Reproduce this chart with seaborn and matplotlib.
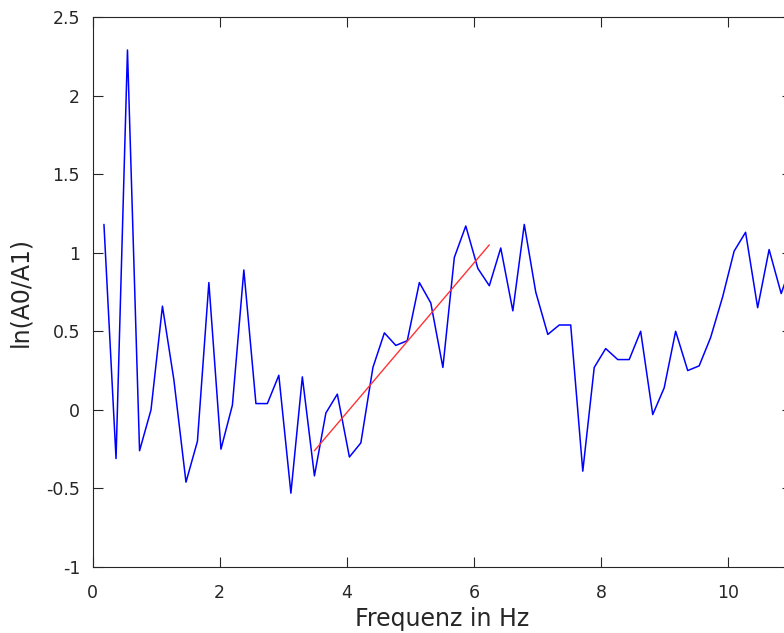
import numpy as np
import pandas as pd
import matplotlib
matplotlib.use("Agg")
import matplotlib.pyplot as plt
import seaborn as sns

freq = [0.18, 0.37, 0.55, 0.74, 0.92, 1.10, 1.28, 1.47, 1.65, 1.83,
        2.02, 2.20, 2.38, 2.57, 2.75, 2.93, 3.12, 3.30, 3.49, 3.67,
        3.85, 4.04, 4.22, 4.41, 4.59, 4.77, 4.95, 5.14, 5.32, 5.51,
        5.69, 5.87, 6.06, 6.24, 6.42, 6.61, 6.79, 6.97, 7.16, 7.34,
        7.52, 7.71, 7.89, 8.07, 8.26, 8.44, 8.62, 8.81, 8.99, 9.17,
        9.36, 9.54, 9.72, 9.91, 10.09, 10.27, 10.46, 10.64, 10.83, 11.01]
ln_ratio = [1.18, -0.31, 2.29, -0.26, 0.00, 0.66, 0.19, -0.46, -0.20, 0.81,
            -0.25, 0.03, 0.89, 0.04, 0.04, 0.22, -0.53, 0.21, -0.42, -0.02,
            0.10, -0.30, -0.21, 0.27, 0.49, 0.41, 0.44, 0.81, 0.68, 0.27,
            0.97, 1.17, 0.90, 0.79, 1.03, 0.63, 1.18, 0.75, 0.48, 0.54,
            0.54, -0.39, 0.27, 0.39, 0.32, 0.32, 0.50, -0.03, 0.14, 0.50,
            0.25, 0.28, 0.46, 0.72, 1.01, 1.13, 0.65, 1.02, 0.74, 0.95]
fit_freq = [3.49, 6.24]
fit_vals = [-0.26, 1.05]

xticks = [0, 2, 4, 6, 8, 10]
yticks = [-1, -0.5, 0, 0.5, 1, 1.5, 2, 2.5]
ytick_labels = ["-1", "-0.5", "0", "0.5", "1", "1.5", "2", "2.5"]

sns.set_theme(style="white")
plt.rcParams["font.family"] = ["DejaVu Sans"]
plt.rcParams["axes.unicode_minus"] = False

dark = "#262626"
fig = plt.figure(figsize=(7.84, 6.33), dpi=100)
ax = fig.add_axes([92.5 / 784, 1 - 567 / 633, (792 - 92.5) / 784, 550 / 633])

df = pd.DataFrame({"f": freq, "v": ln_ratio})
fit = pd.DataFrame({"f": fit_freq, "v": fit_vals})
sns.lineplot(data=df, x="f", y="v", color=(0, 0, 1), lw=1.1, sort=False,
             estimator=None, ax=ax)
sns.lineplot(data=fit, x="f", y="v", color=(1, 0.2, 0.2), lw=1.0, sort=False,
             estimator=None, ax=ax)

ax.set_xlim(0, 11)
ax.set_ylim(-1, 2.5)
ax.set_xticks(xticks)
ax.set_yticks(yticks)
ax.set_yticklabels(ytick_labels)
ax.tick_params(direction="in", length=7, width=0.8, colors=dark,
               labelsize=12.5, top=True, right=True, bottom=True, left=True)
ax.tick_params(axis="x", pad=12)
ax.tick_params(axis="y", pad=9)
for s in ax.spines.values():
    s.set_color(dark)
    s.set_linewidth(0.8)
ax.set_xlabel("Frequenz in Hz", fontsize=17, color=dark, labelpad=4)
ax.set_ylabel("ln(A0/A1)", fontsize=17, color=dark, labelpad=10)

fig.savefig("out.png", dpi=100)
